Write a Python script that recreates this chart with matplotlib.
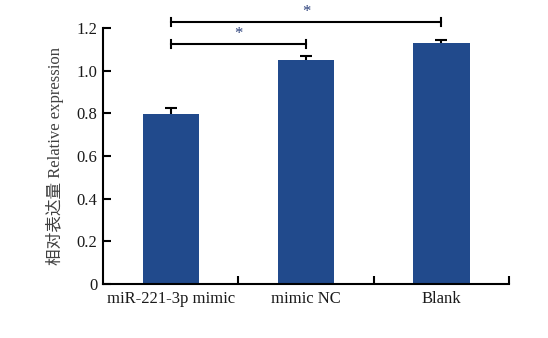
import numpy as np
import matplotlib.pyplot as plt

plt.rcParams['font.family'] = ['Liberation Serif', 'Noto Sans CJK SC']

# data
groups = ['miR-221-3p mimic', 'mimic NC', 'Blank']
values = [0.795, 1.048, 1.128]
errors = [0.030, 0.020, 0.018]
# significance pairs (i, j, bracket height)
sig_pairs = [(0, 1, 1.125), (0, 2, 1.228)]

bar_color = '#214A8C'

fig = plt.figure(figsize=(5.48, 3.38), dpi=100)
ax = fig.add_axes([0.188, 0.160, 0.741, 0.757])

x = np.arange(len(groups))
ax.bar(x, values, width=0.415, color=bar_color, zorder=2)
# symmetric bars drawn behind, so only upper half shows
ax.errorbar(x, values, yerr=errors, fmt='none',
            ecolor='black', elinewidth=1.5, capsize=4, capthick=1.5, zorder=1)

ax.set_xlim(-0.5, len(groups) - 0.5)
ax.set_ylim(0, 1.2)
ax.set_yticks([0, 0.2, 0.4, 0.6, 0.8, 1.0, 1.2])
ax.set_yticklabels(['0', '0.2', '0.4', '0.6', '0.8', '1.0', '1.2'])
ax.set_xticks(x)
ax.set_xticklabels(groups)
ax.set_xticks(np.arange(0.5, len(groups)), minor=True)

ax.tick_params(axis='y', direction='in', length=6, width=1.5, labelsize=12,
               colors='black', labelcolor='#1a1a1a', pad=4)
ax.tick_params(axis='x', which='major', length=0, labelsize=12,
               labelcolor='#1a1a1a', pad=5)
ax.tick_params(axis='x', which='minor', direction='in', length=6, width=1.5)

for s in ['top', 'right']:
    ax.spines[s].set_visible(False)
for s in ['left', 'bottom']:
    ax.spines[s].set_linewidth(1.5)

ax.set_ylabel('相对表达量 Relative expression', fontsize=12, color='#404040',
              labelpad=9)

# significance brackets
for i, j, h in sig_pairs:
    ax.plot([x[i], x[j]], [h, h], color='black', lw=1.5, clip_on=False)
    for xx in (x[i], x[j]):
        ax.plot([xx, xx], [h - 0.02, h + 0.02], color='black', lw=1.5,
                clip_on=False)
    ax.text((x[i] + x[j]) / 2, h + 0.01, '*', ha='center', va='bottom',
            fontsize=12, color='#2a3f7a')

fig.savefig('out.png', dpi=100)
